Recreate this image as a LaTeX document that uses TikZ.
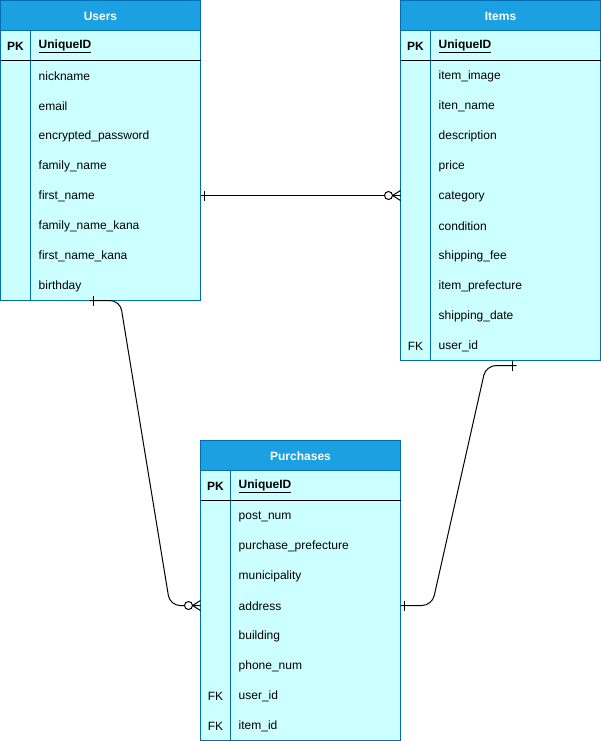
\documentclass[tikz,border=0pt]{standalone}
\usepackage{fontspec}
\setmainfont{Liberation Sans}
\definecolor{hdrfill}{HTML}{1BA1E2}
\definecolor{bdr}{HTML}{006EAF}
\definecolor{bodyfill}{HTML}{CCFFFF}
\newcommand\fs{\fontsize{12pt}{14pt}\selectfont}
\tikzset{
  tbl/.style={draw=bdr, fill=bodyfill, line width=1pt, minimum width=200pt, inner sep=0pt, outer sep=0pt, anchor=north west},
  tblhdr/.style={draw=bdr, fill=hdrfill, line width=1pt, minimum width=200pt, minimum height=30pt, inner sep=0pt, outer sep=0pt, anchor=north west},
  hdrtext/.style={anchor=center, inner sep=0pt, text=white, font=\fs\bfseries, yshift=-1pt},
  fld/.style={anchor=west, inner sep=0pt, font=\fs, yshift=-1pt},
  keycell/.style={anchor=center, inner sep=0pt, font=\fs, yshift=-1pt},
  conn/.style={draw=black, line width=1pt},
}
\newcommand\ertable[6]{%
  \begin{scope}[shift={(#2,#3)}]
    \pgfmathsetmacro\tblH{60+30*#5}
    \node[tbl, minimum height=\tblH pt] (#1) at (0,0) {};
    \node[tblhdr] (#1-title) at (0,0) {};
    \node[hdrtext] (#1-name) at (100,15) {#4};
    \node[keycell] (#1-pk) at (15,45) {\bfseries PK};
    \node[fld] (#1-pkname) at (38,45) {\bfseries\underline{UniqueID}};
    \foreach \k/\f [count=\i] in {#6} {
      \node[keycell] (#1-k\i) at (15,45+30*\i) {\k};
      \node[fld] (#1-f\i) at (38,45+30*\i) {\f};
    }
    \draw[bdr, line width=1pt] (30,30) -- (30,\tblH);
    \draw[black, line width=1pt] (0,60) -- (200,60);
  \end{scope}}
\begin{document}
\begin{tikzpicture}[x=1pt,y=-1pt]
\useasboundingbox (0,0) rectangle (601,741);
\fill[white] (0,0) rectangle (601,741);

\ertable{users}{0.5}{0.5}{Users}{8}{{}/nickname,{}/email,{}/encrypted\_password,{}/family\_name,{}/first\_name,{}/family\_name\_kana,{}/first\_name\_kana,{}/birthday}
\ertable{items}{400.5}{0.5}{Items}{10}{{}/item\_image,{}/iten\_name,{}/description,{}/price,{}/category,{}/condition,{}/shipping\_fee,{}/item\_prefecture,{}/shipping\_date,FK/user\_id}
\ertable{purch}{200.5}{440.5}{Purchases}{8}{{}/post\_num,{}/purchase\_prefecture,{}/municipality,{}/address,{}/building,{}/phone\_num,FK/user\_id,FK/item\_id}

% Users -- Items
\coordinate (c1a) at (users.east |- 0,195.5);
\coordinate (c1b) at (items.west |- 0,195.5);
\draw[conn] (c1a) -- (c1b);
\draw[conn] ([xshift=4pt]c1a) ++(0,-5) -- ++(0,10);
\draw[conn] ([xshift=-8pt]c1b) -- ([yshift=5pt]c1b);
\draw[conn] ([xshift=-8pt]c1b) -- ([yshift=-5pt]c1b);
\draw[conn, fill=white] ([xshift=-12pt]c1b) circle (4pt);

% Users -- Purchases
\coordinate (c2a) at ([xshift=-11pt]users.south);
\coordinate (c2b) at (purch.west |- 0,605.5);
\draw[conn, rounded corners=10pt] (c2a) -- (120,300.5) -- (170,605.5) -- (c2b);
\draw[conn] ([xshift=4pt]c2a) ++(0,-5) -- ++(0,10);
\draw[conn] ([xshift=-8pt]c2b) -- ([yshift=5pt]c2b);
\draw[conn] ([xshift=-8pt]c2b) -- ([yshift=-5pt]c2b);
\draw[conn, fill=white] ([xshift=-12pt]c2b) circle (4pt);

% Items -- Purchases
\coordinate (c3a) at ([xshift=16pt,yshift=-5pt]items.south);
\coordinate (c3b) at (purch.east |- 0,605.5);
\draw[conn, rounded corners=10pt] (c3a) -- (486,365.5) -- (432,605.5) -- (c3b);
\draw[conn] ([xshift=-4pt]c3a) ++(0,-5) -- ++(0,10);
\draw[conn] ([xshift=4pt]c3b) ++(0,-5) -- ++(0,10);
\end{tikzpicture}
\end{document}
